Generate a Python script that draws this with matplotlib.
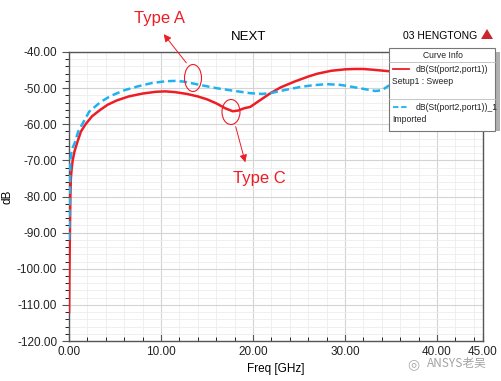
import matplotlib
matplotlib.use("Agg")
import matplotlib.pyplot as plt
from matplotlib.patches import Ellipse, Rectangle, Polygon, FancyArrowPatch
from matplotlib.lines import Line2D

plt.rcParams['font.family'] = ['Liberation Sans', 'DejaVu Sans']

# --- data ---
freqRed = [0.01, 0.03, 0.05, 0.08, 0.1, 0.15, 0.2, 0.3, 0.4, 0.6, 0.9, 1.3, 1.8, 2.5, 3.4,
           4.2, 5.2, 6.5, 8.0, 9.5, 10.5, 11.5, 12.8, 14.0, 15.0, 16.0, 17.0, 17.8, 18.4,
           19.0, 19.7, 20.5, 21.9, 23.0, 24.5, 26.0, 27.0, 28.5, 30.0, 31.0, 32.0, 33.0,
           34.7, 36.0, 38.0, 40.0, 42.0, 45.0]
dbRed = [-112, -106, -100, -94, -90, -80, -75, -72, -70, -67.5, -65, -62, -60, -57.8, -56,
         -54.6, -53.4, -52.3, -51.5, -51.0, -50.9, -51.1, -51.6, -52.3, -53.1, -54.2, -55.6,
         -56.4, -56.2, -55.6, -55.2, -53.8, -51.4, -49.8, -48.2, -46.8, -46.0, -45.2, -44.8,
         -44.7, -44.7, -44.9, -45.3, -45.6, -45.8, -45.8, -45.6, -45.5]

freqBlue = [0.03, 0.06, 0.1, 0.15, 0.25, 0.4, 0.65, 1.0, 1.5, 2.2, 3.4, 4.5, 6.0, 7.5, 9.0,
            10.5, 11.5, 12.5, 14.2, 16.0, 17.8, 19.7, 21.0, 21.9, 23.5, 25.1, 26.5, 28.0,
            29.5, 30.9, 32.2, 33.3, 34.0, 34.7, 36.0, 38.0, 40.0, 45.0]
dbBlue = [-92, -85, -78, -70, -68, -66.5, -65, -62, -59.7, -56.5, -53.9, -52.2, -50.6, -49.5,
          -48.6, -48.1, -48.0, -48.2, -49.1, -50.0, -50.7, -51.4, -51.6, -51.4, -50.5, -49.7,
          -49.2, -48.9, -49.1, -49.7, -50.3, -50.8, -50.6, -49.4, -48.5, -48.5, -49.0, -49.5]

xTicks = [0, 10, 20, 30, 40, 45]
yTicks = [-120, -110, -100, -90, -80, -70, -60, -50, -40]

RED = '#ee1c25'
BLUE = '#20b2f0'
W, H = 502, 381


def px(x, y):
    # pixel position (from top left) -> figure fraction
    return (x / W, 1 - y / H)


fig = plt.figure(figsize=(5.02, 3.81), dpi=100)
ax = fig.add_axes([69 / W, 1 - 341 / H, 414 / W, 289 / H])

ax.plot(freqRed, dbRed, color=RED, lw=1.8, zorder=3)
ax.plot(freqBlue, dbBlue, color=BLUE, lw=1.8, ls=(0, (3, 1.6)), zorder=3)

ax.set_xlim(0, 45)
ax.set_ylim(-120, -40)
ax.set_xticks(xTicks)
ax.set_xticklabels(['%.2f' % v for v in xTicks])
ax.set_yticks(yTicks)
ax.set_yticklabels(['%.2f' % v for v in yTicks])
ax.set_xticks([v for v in range(0, 46, 2) if v % 10], minor=True)
ax.set_yticks([v for v in range(-120, -39, 2) if v % 10], minor=True)
ax.grid(True, which='major', color='#d4d4d4', lw=0.8)
ax.grid(True, which='minor', color='#ececec', lw=0.6)
ax.set_axisbelow(True)
ax.tick_params(axis='both', labelsize=8.5, colors='#555555', labelcolor='#222222')
ax.tick_params(axis='x', which='both', direction='in')
ax.tick_params(axis='y', which='both', direction='out')
ax.tick_params(which='major', length=5)
ax.tick_params(which='minor', length=3)
for s in ax.spines.values():
    s.set_color('#555555')
    s.set_linewidth(1.0)

ax.set_xlabel('Freq [GHz]', fontsize=8.5, labelpad=4)
ax.set_ylabel('dB', fontsize=8.5)
ax.yaxis.set_label_coords(-(69 - 14) / 414, 0.5)

fig.text(*px(249, 37), 'NEXT', fontsize=9.5, ha='center', va='center')
fig.text(*px(440, 36), '03 HENGTONG', fontsize=7.5, ha='center', va='center')
fig.patches.append(Polygon([px(481, 39), px(487, 29), px(493, 39)], closed=True,
                           facecolor='#c8282d', edgecolor='none', transform=fig.transFigure))

# legend box (Curve Info)
fig.patches.append(Rectangle(px(495, 131), 5 / W, 79 / H, facecolor='#b0b0b0',
                             edgecolor='none', transform=fig.transFigure, zorder=5))
fig.patches.append(Rectangle(px(389, 131), 106 / W, 83 / H, facecolor='white',
                             edgecolor='#777777', lw=0.8, transform=fig.transFigure, zorder=6))
for yy in (62, 99):
    fig.add_artist(Line2D([389 / W, 495 / W], [1 - yy / H] * 2, color='#bbbbbb', lw=0.6,
                          transform=fig.transFigure, zorder=7))
fig.add_artist(Line2D([393 / W, 409 / W], [1 - 69 / H] * 2, color=RED, lw=1.3,
                      transform=fig.transFigure, zorder=7))
fig.add_artist(Line2D([393 / W, 409 / W], [1 - 107 / H] * 2, color=BLUE, lw=1.3,
                      ls=(0, (3, 1.5)), transform=fig.transFigure, zorder=7))
legTxt = dict(fontsize=6.2, va='center', zorder=8, color='#222222')
fig.text(*px(443, 56), 'Curve Info', ha='center', **legTxt)
fig.text(*px(416, 69), 'dB(St(port2,port1))', ha='left', **legTxt)
fig.text(*px(392, 82), 'Setup1 : Sweep', ha='left', **legTxt)
fig.text(*px(416, 107), 'dB(St(port2,port1))_1', ha='left', **legTxt)
fig.text(*px(392, 119), 'Imported', ha='left', **legTxt)

# annotations
fig.patches.append(Ellipse(px(193, 78), 17 / W, 27 / H, fill=False, edgecolor=RED, lw=0.8,
                           transform=fig.transFigure, zorder=9))
fig.patches.append(Ellipse(px(231, 112), 18 / W, 25 / H, fill=False, edgecolor=RED, lw=0.8,
                           transform=fig.transFigure, zorder=9))
arrow = dict(arrowstyle='-|>', color=RED, lw=0.7, mutation_scale=11)
fig.add_artist(FancyArrowPatch(px(188, 65), px(162, 32), transform=fig.transFigure, **arrow))
fig.add_artist(FancyArrowPatch(px(235, 124), px(246, 165), transform=fig.transFigure, **arrow))
fig.text(*px(160, 19), 'Type A', color=RED, fontsize=12, ha='center', va='center')
fig.text(*px(259, 178), 'Type C', color=RED, fontsize=12, ha='center', va='center')

# watermark
fig.text(*px(413, 364), '◎', color='#aaaaaa', fontsize=10, ha='center', va='center',
         family=['DejaVu Sans'])
fig.text(*px(457, 364), 'ANSYS老吴', color='#999999', fontsize=8.5, ha='center', va='center',
         family=['Noto Sans CJK SC', 'DejaVu Sans'], alpha=0.9)

fig.savefig('out.png', dpi=100)
